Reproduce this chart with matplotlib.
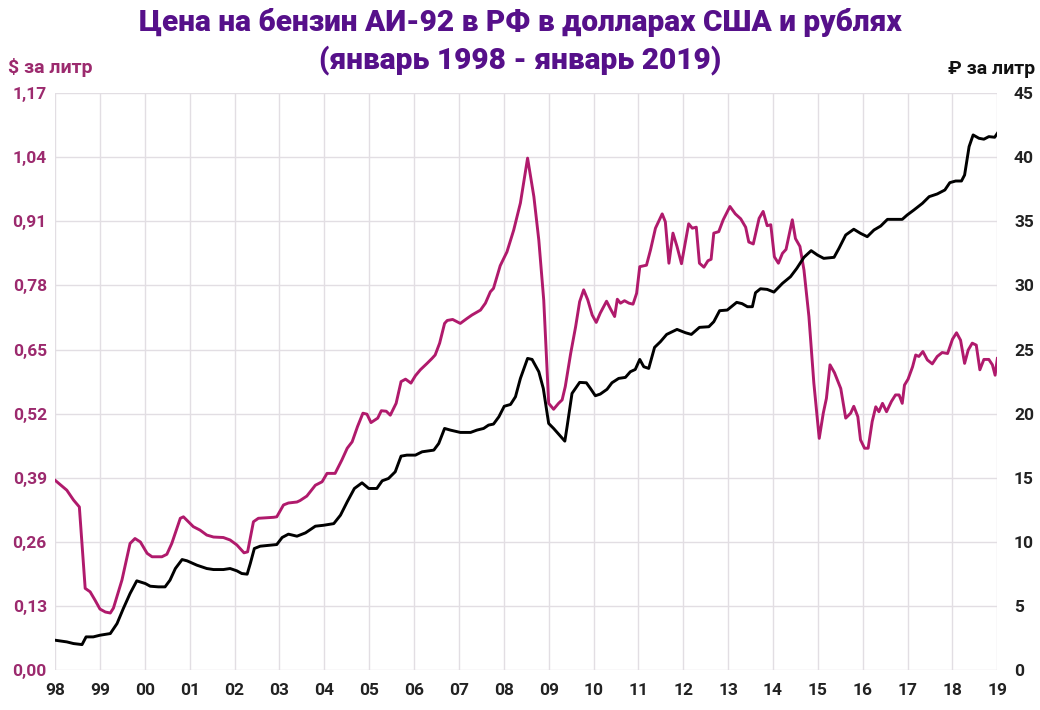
import numpy as np
import matplotlib.pyplot as plt

# years since Jan 1998
usd_t = [0.00, 0.26, 0.41, 0.54, 0.67, 0.78, 0.89, 1.00, 1.12, 1.23, 1.30, 1.49, 1.67, 1.78, 1.90,
         2.05, 2.16, 2.38, 2.49, 2.60, 2.79, 2.86, 3.08, 3.23, 3.38, 3.53, 3.75, 3.90, 4.05, 4.21,
         4.29, 4.42, 4.53, 4.87, 4.94, 5.09, 5.20, 5.39, 5.46, 5.61, 5.80, 5.95, 6.06, 6.24, 6.39,
         6.51, 6.62, 6.74, 6.86, 6.95, 7.04, 7.19, 7.27, 7.38, 7.47, 7.60, 7.71, 7.81, 7.93, 8.03,
         8.14, 8.29, 8.40, 8.47, 8.57, 8.68, 8.74, 8.86, 9.03, 9.18, 9.29, 9.48, 9.59, 9.70, 9.77,
         9.92, 10.07, 10.22, 10.37, 10.53, 10.67, 10.78, 10.89, 11.00, 11.11, 11.22, 11.30, 11.37,
         11.49, 11.60, 11.69, 11.78, 11.87, 11.97, 12.06, 12.15, 12.29, 12.38, 12.47, 12.53, 12.60,
         12.69, 12.79, 12.88, 12.96, 13.03, 13.18, 13.27, 13.38, 13.53, 13.60, 13.68, 13.77, 13.86,
         13.96, 14.12, 14.20, 14.29, 14.36, 14.46, 14.55, 14.62, 14.68, 14.79, 14.89, 15.04, 15.16,
         15.28, 15.39, 15.46, 15.56, 15.69, 15.78, 15.87, 15.95, 16.03, 16.12, 16.21, 16.29, 16.43,
         16.50, 16.60, 16.69, 16.80, 16.91, 17.03, 17.12, 17.19, 17.27, 17.37, 17.51, 17.62, 17.73,
         17.80, 17.89, 17.95, 18.04, 18.12, 18.21, 18.29, 18.36, 18.44, 18.53, 18.64, 18.73, 18.81,
         18.88, 18.93, 19.01, 19.11, 19.18, 19.25, 19.34, 19.44, 19.55, 19.66, 19.77, 19.89, 20.00,
         20.09, 20.18, 20.27, 20.35, 20.44, 20.53, 20.61, 20.70, 20.81, 20.89, 20.95, 21.00]
usd = [0.385, 0.365, 0.345, 0.331, 0.166, 0.159, 0.142, 0.124, 0.118, 0.116, 0.126, 0.183, 0.257, 0.267, 0.260,
       0.237, 0.230, 0.230, 0.235, 0.257, 0.308, 0.311, 0.291, 0.284, 0.274, 0.270, 0.269, 0.264, 0.254, 0.238,
       0.240, 0.301, 0.308, 0.310, 0.311, 0.335, 0.339, 0.341, 0.344, 0.353, 0.375, 0.382, 0.399, 0.399, 0.426,
       0.450, 0.463, 0.494, 0.521, 0.519, 0.502, 0.511, 0.526, 0.525, 0.517, 0.541, 0.585, 0.590, 0.582, 0.597,
       0.609, 0.622, 0.632, 0.639, 0.663, 0.703, 0.709, 0.711, 0.703, 0.713, 0.720, 0.730, 0.744, 0.767, 0.774,
       0.820, 0.848, 0.892, 0.947, 1.038, 0.960, 0.872, 0.750, 0.541, 0.529, 0.541, 0.548, 0.575,
       0.642, 0.696, 0.747, 0.771, 0.751, 0.720, 0.705, 0.724, 0.748, 0.732, 0.717, 0.752, 0.744,
       0.749, 0.744, 0.742, 0.764, 0.818, 0.821, 0.852, 0.896, 0.925, 0.909, 0.825, 0.886, 0.859,
       0.824, 0.905, 0.896, 0.898, 0.825, 0.817, 0.830, 0.833, 0.886, 0.889, 0.913, 0.940, 0.925,
       0.915, 0.898, 0.868, 0.864, 0.916, 0.930, 0.901, 0.903, 0.838, 0.825, 0.845, 0.853, 0.913,
       0.875, 0.859, 0.811, 0.717, 0.582, 0.470, 0.521, 0.551, 0.619, 0.603, 0.571, 0.511, 0.521,
       0.535, 0.514, 0.467, 0.450, 0.450, 0.504, 0.534, 0.524, 0.541, 0.524, 0.545, 0.558, 0.558,
       0.541, 0.578, 0.590, 0.615, 0.639, 0.636, 0.646, 0.629, 0.621, 0.636, 0.644, 0.642, 0.671,
       0.684, 0.669, 0.622, 0.649, 0.663, 0.659, 0.609, 0.630, 0.630, 0.619, 0.598, 0.632]

rub_t = [0.00, 0.26, 0.41, 0.60, 0.69, 0.85, 1.00, 1.23, 1.38, 1.52, 1.67, 1.82, 2.01, 2.12, 2.30,
         2.45, 2.56, 2.68, 2.83, 2.94, 3.16, 3.38, 3.53, 3.75, 3.90, 4.05, 4.16, 4.28, 4.35, 4.44,
         4.57, 4.79, 4.94, 5.06, 5.20, 5.39, 5.58, 5.80, 5.98, 6.21, 6.36, 6.51, 6.67, 6.84, 6.99,
         7.17, 7.29, 7.43, 7.58, 7.71, 7.84, 8.03, 8.18, 8.44, 8.55, 8.68, 8.81, 9.03, 9.26, 9.40,
         9.55, 9.66, 9.77, 9.89, 10.01, 10.15, 10.26, 10.37, 10.53, 10.63, 10.78, 10.88, 11.00,
         11.11, 11.22, 11.36, 11.41, 11.52, 11.69, 11.84, 11.93, 12.04, 12.15, 12.30, 12.41, 12.56,
         12.71, 12.82, 12.93, 13.03, 13.12, 13.23, 13.36, 13.49, 13.63, 13.86, 14.05, 14.18, 14.36,
         14.57, 14.68, 14.81, 14.98, 15.19, 15.31, 15.43, 15.54, 15.61, 15.72, 15.87, 16.02, 16.21,
         16.39, 16.53, 16.69, 16.85, 16.99, 17.13, 17.36, 17.47, 17.62, 17.80, 17.95, 18.10, 18.25,
         18.40, 18.55, 18.88, 18.99, 19.14, 19.33, 19.48, 19.66, 19.83, 19.94, 20.07, 20.20, 20.27,
         20.37, 20.46, 20.59, 20.70, 20.81, 20.94, 21.00]
rub = [2.34, 2.21, 2.08, 2.00, 2.60, 2.60, 2.73, 2.86, 3.64, 4.81, 5.98, 6.97, 6.76, 6.55, 6.50,
       6.50, 7.02, 7.93, 8.63, 8.53, 8.19, 7.93, 7.85, 7.85, 7.93, 7.75, 7.54, 7.49, 8.32, 9.49,
       9.67, 9.75, 9.80, 10.35, 10.61, 10.45, 10.71, 11.23, 11.30, 11.43, 12.09, 13.13, 14.17, 14.61, 14.17,
       14.17, 14.77, 14.95, 15.47, 16.69, 16.77, 16.77, 17.03, 17.16, 17.68, 18.85, 18.72, 18.54, 18.54, 18.72,
       18.85, 19.11, 19.19, 19.76, 20.58, 20.72, 21.32, 22.75, 24.31, 24.23, 23.27, 21.97, 19.24,
       18.85, 18.41, 17.86, 18.98, 21.58, 22.44, 22.41, 21.97, 21.40, 21.53, 21.90, 22.41, 22.75,
       22.83, 23.27, 23.45, 24.23, 23.66, 23.53, 25.17, 25.61, 26.18, 26.57, 26.31, 26.18, 26.73,
       26.78, 27.17, 28.03, 28.08, 28.68, 28.58, 28.34, 28.34, 29.43, 29.74, 29.69, 29.48, 30.16,
       30.68, 31.33, 32.19, 32.71, 32.37, 32.11, 32.19, 32.89, 33.93, 34.38, 34.06, 33.80, 34.32,
       34.63, 35.15, 35.15, 35.49, 35.88, 36.40, 36.92, 37.13, 37.44, 38.01, 38.14, 38.14, 38.61,
       40.82, 41.73, 41.47, 41.40, 41.60, 41.55, 41.86]

year_labels = ['98', '99', '00', '01', '02', '03', '04', '05', '06', '07', '08',
               '09', '10', '11', '12', '13', '14', '15', '16', '17', '18', '19']
usd_ticks = [0.00, 0.13, 0.26, 0.39, 0.52, 0.65, 0.78, 0.91, 1.04, 1.17]
rub_ticks = [0, 5, 10, 15, 20, 25, 30, 35, 40, 45]

magenta = '#b01a6c'
label_magenta = '#9c2a6e'
purple = '#56108a'
fam = ['Roboto', 'DejaVu Sans']

fig = plt.figure(figsize=(10.4, 7.1), dpi=100)
ax = fig.add_axes([0.053, 0.056, 0.906, 0.813])
ax2 = ax.twinx()

ax.plot(usd_t, usd, color=magenta, lw=2.1, solid_joinstyle='round')
ax2.plot(rub_t, rub, color='black', lw=2.1, solid_joinstyle='round')

ax.set_xlim(0, 21)
ax.set_ylim(0, 1.17)
ax2.set_ylim(0, 45)
ax.set_xticks(range(len(year_labels)))
ax.set_xticklabels(year_labels, family=fam, fontsize=12.5, fontweight='bold', color='#222222')
ax.set_yticks(usd_ticks)
ax.set_yticklabels([f'{v:.2f}'.replace('.', ',') for v in usd_ticks], family=fam,
                   fontsize=12.5, fontweight='bold', color=label_magenta)
ax2.set_yticks(rub_ticks)
ax2.set_yticklabels([str(v) for v in rub_ticks], family=fam, fontsize=12.5,
                    fontweight='bold', color='#222222')

ax.grid(True, color='#e2dee3', lw=1.0)
ax.set_axisbelow(True)
for a in (ax, ax2):
    for s in a.spines.values():
        s.set_visible(False)
    a.tick_params(length=0)
ax.tick_params(axis='y', pad=6)
ax.tick_params(axis='x', pad=9)
ax2.tick_params(axis='y', pad=12)

fig.text(0.5, 0.968, 'Цена на бензин АИ-92 в РФ в долларах США и рублях', ha='center', va='center',
         family=fam, fontsize=21.5, fontweight='black', color=purple)
fig.text(0.5, 0.915, '(январь 1998 - январь 2019)', ha='center', va='center',
         family=fam, fontsize=21.5, fontweight='black', color=purple)
fig.text(0.008, 0.905, '$ за литр', ha='left', va='center', family=fam, fontsize=14,
         fontweight='bold', color=label_magenta)
fig.text(0.995, 0.903, '₽ за литр', ha='right', va='center', family=fam, fontsize=14,
         fontweight='bold', color='#111111')

fig.savefig('out.png', dpi=100)
